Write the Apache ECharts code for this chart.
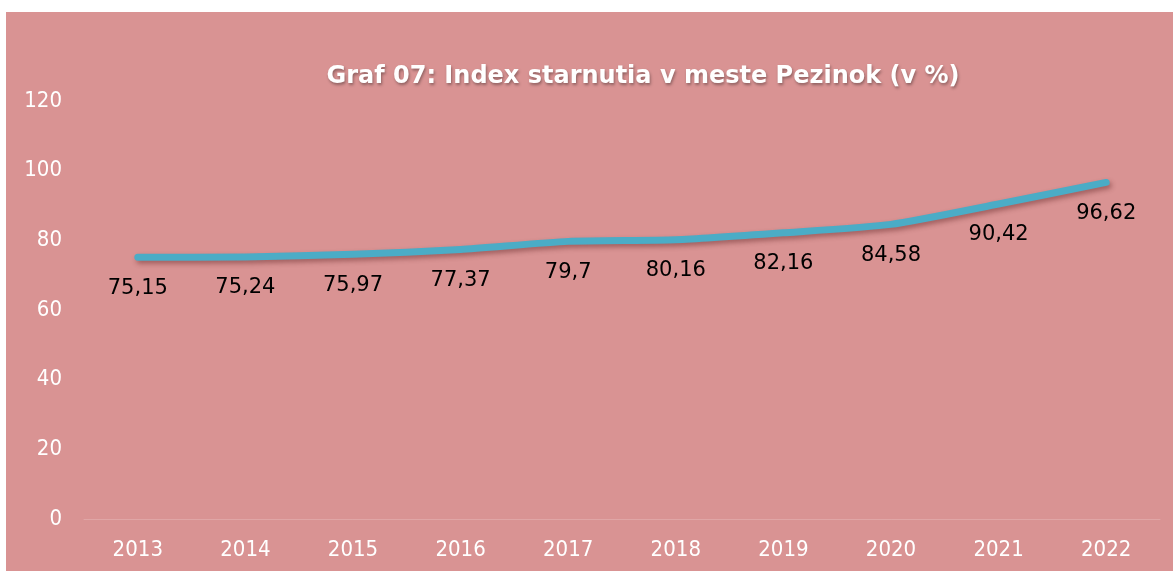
<!DOCTYPE html>
<html>
<head>
<meta charset="utf-8">
<style>
  html, body { margin: 0; padding: 0; background: #fff; }
  #chart { position: absolute; left: 6px; top: 12px; width: 1167px; height: 559px; background: #d99393; }
</style>
<script src="https://cdn.jsdelivr.net/npm/echarts@6/dist/echarts.min.js"></script>
</head>
<body>
<div id="chart"></div>
<script>
// roky a hodnoty indexu starnutia
const years = ['2013', '2014', '2015', '2016', '2017', '2018', '2019', '2020', '2021', '2022']
const indexValues = [75.15, 75.24, 75.97, 77.37, 79.7, 80.16, 82.16, 84.58, 90.42, 96.62]
const yTicks = [0, 20, 40, 60, 80, 100, 120]

const titleText = 'Graf 07: Index starnutia v meste Pezinok (v %)'

let myChart = echarts.init(document.getElementById('chart'))
myChart.setOption({
  animation: false,
  title: {
    text: titleText,
    left: 632,
    top: 48,
    textAlign: 'center',
    textStyle: {
      color: '#ffffff',
      fontFamily: 'DejaVu Sans',
      fontWeight: 'bold',
      fontSize: 24,
      textShadowColor: 'rgba(0,0,0,0.35)',
      textShadowBlur: 3,
      textShadowOffsetX: 1,
      textShadowOffsetY: 2,
    },
  },
  grid: {
    left: 84 - 6,
    right: 13,
    top: 101 - 12,
    bottom: 52,
  },
  xAxis: {
    type: 'category',
    data: years,
    boundaryGap: true,
    axisLine: { lineStyle: { color: 'rgba(255,255,255,0.18)', width: 1 } },
    axisTick: { show: false },
    axisLabel: {
      color: '#ffffff',
      fontFamily: 'Liberation Sans Narrow, DejaVu Sans Condensed, sans-serif',
      fontSize: 22,
      margin: 20,
    },
  },
  yAxis: {
    type: 'value',
    min: yTicks[0],
    max: yTicks[yTicks.length - 1],
    interval: 20,
    splitLine: { show: false },
    axisLine: { show: false },
    axisTick: { show: false },
    axisLabel: {
      color: '#ffffff',
      fontFamily: 'Liberation Sans Narrow, DejaVu Sans Condensed, sans-serif',
      fontSize: 22,
      margin: 22,
    },
  },
  series: [
    {
      type: 'line',
      data: indexValues,
      smooth: 0.2,
      symbol: 'circle',
      symbolSize: 1,
      showSymbol: true,
      itemStyle: { color: 'rgba(0,0,0,0)' },
      lineStyle: {
        color: '#4bacc6',
        width: 7,
        cap: 'round',
        join: 'round',
        shadowColor: 'rgba(90,30,30,0.45)',
        shadowBlur: 5,
        shadowOffsetX: 2,
        shadowOffsetY: 3,
      },
      label: {
        show: true,
        position: 'bottom',
        distance: 20,
        color: '#000000',
        fontFamily: 'DejaVu Sans',
        fontSize: 21,
        formatter: (p) => String(p.value).replace('.', ','),
      },
    },
  ],
})
</script>
</body>
</html>
